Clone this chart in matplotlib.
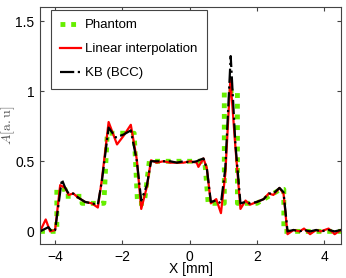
import matplotlib
matplotlib.use('Agg')
import matplotlib.pyplot as plt

plt.rcParams['font.family'] = ['Liberation Sans', 'DejaVu Sans']
plt.rcParams['mathtext.fontset'] = 'cm'

# phantom (piecewise constant profile)
phantom_x = [-4.45, -3.95, -3.95, -3.7, -3.7, -3.2, -3.2, -2.55, -2.45, -1.65, -1.55, -1.35, -1.2,
             0.45, 0.55, 1.03, 1.03, 1.42, 1.42, 2.0, 2.7, 2.8, 2.8, 4.5]
phantom_y = [0, 0, 0.3, 0.3, 0.25, 0.25, 0.2, 0.2, 0.7, 0.7, 0.2, 0.2, 0.5,
             0.5, 0.2, 0.2, 1.0, 1.0, 0.2, 0.2, 0.3, 0.3, 0, 0]

# linear interpolation reconstruction
lin_x = [-4.45, -4.28, -4.15, -4.0, -3.85, -3.7, -3.6, -3.46, -3.31, -3.11, -2.91, -2.73, -2.61,
         -2.41, -2.16, -1.97, -1.75, -1.57, -1.44, -1.27, -1.15, -0.98, -0.78, -0.58, -0.38,
         -0.18, 0.02, 0.21, 0.26, 0.41, 0.51, 0.63, 0.79, 0.93, 1.06, 1.21, 1.36, 1.51, 1.66,
         1.79, 2.0, 2.2, 2.35, 2.49, 2.67, 2.79, 2.91, 3.09, 3.27, 3.4, 3.58, 3.76, 3.9, 4.13,
         4.31, 4.5]
lin_y = [0.0, 0.085, 0.0, 0.01, 0.33, 0.31, 0.26, 0.27, 0.24, 0.21, 0.2, 0.17, 0.37,
         0.78, 0.62, 0.68, 0.76, 0.51, 0.16, 0.32, 0.507, 0.49, 0.5, 0.49, 0.49,
         0.49, 0.5, 0.49, 0.46, 0.52, 0.45, 0.2, 0.23, 0.13, 0.41, 1.09, 0.6, 0.16, 0.22,
         0.19, 0.21, 0.23, 0.27, 0.26, 0.31, 0.27, -0.02, 0.01, 0.0, 0.02, -0.02, 0.01, 0.0, 0.02,
         -0.02, 0.01]

# KB (BCC) reconstruction
kb_x = [-4.45, -4.2, -4.1, -4.0, -3.8, -3.7, -3.6, -3.46, -3.31, -3.11, -2.91, -2.73, -2.61,
        -2.41, -2.2, -1.97, -1.75, -1.57, -1.44, -1.27, -1.15, -0.98, -0.78, -0.58, -0.38,
        -0.18, 0.02, 0.21, 0.3, 0.41, 0.51, 0.63, 0.79, 0.93, 1.06, 1.22, 1.36, 1.51, 1.66,
        1.79, 2.0, 2.2, 2.35, 2.49, 2.67, 2.79, 2.91, 3.09, 3.27, 3.4, 3.58, 3.76, 3.9, 4.13,
        4.31, 4.5]
kb_y = [0.0, 0.03, 0.0, 0.01, 0.37, 0.31, 0.27, 0.27, 0.24, 0.21, 0.2, 0.19, 0.36,
        0.74, 0.67, 0.69, 0.72, 0.5, 0.22, 0.33, 0.5, 0.5, 0.5, 0.5, 0.49,
        0.5, 0.49, 0.5, 0.51, 0.52, 0.45, 0.21, 0.22, 0.2, 0.45, 1.25, 0.62, 0.2, 0.21,
        0.2, 0.21, 0.23, 0.27, 0.27, 0.31, 0.28, 0.0, 0.01, 0.0, 0.01, 0.0, 0.01, 0.0, 0.01,
        0.0, 0.01]

xticks = [-4, -2, 0, 2, 4]
xtick_labels = ['\u22124', '\u22122', '0', '2', '4']
yticks = [0, 0.5, 1, 1.5]
ytick_labels = ['0', '0.5', '1', '1.5']

fig = plt.figure(figsize=(3.46, 2.78), dpi=100)
ax = fig.add_axes([0.1156, 0.1223, 0.87, 0.8525])

ax.plot(phantom_x, phantom_y, color='#66ee00', lw=3.5, linestyle=(0, (1, 1.2)),
        dash_capstyle='butt', label='Phantom')
ax.plot(lin_x, lin_y, color='#ff0000', lw=1.6, label='Linear interpolation')
ax.plot(kb_x, kb_y, color='black', lw=1.6, linestyle='-.', label='KB (BCC)')

ax.set_xlim(-4.45, 4.5)
ax.set_ylim(-0.09, 1.6)
ax.set_xticks(xticks)
ax.set_xticklabels(xtick_labels)
ax.set_yticks(yticks)
ax.set_yticklabels(ytick_labels)
ax.tick_params(direction='in', top=True, right=True, labelsize=10, length=3,
               color='#444444', pad=4)
for s in ax.spines.values():
    s.set_color('#444444')
    s.set_linewidth(0.8)

ax.set_xlabel('X [mm]', fontsize=10, labelpad=-1)
ax.set_ylabel(r'$A[\mathrm{a.u}]$', fontsize=10, color='#555555')
ax.yaxis.set_label_coords(-0.078, 0.5)

leg = ax.legend(loc='upper left', bbox_to_anchor=(0.147, 0.965),
                bbox_transform=fig.transFigure, fontsize=9.5, fancybox=False,
                framealpha=1, edgecolor='#444444', handlelength=1.6,
                handletextpad=0.3, labelspacing=0.9, borderpad=0.7,
                borderaxespad=0)
leg.get_frame().set_linewidth(0.8)

fig.savefig('out.png', dpi=100)
